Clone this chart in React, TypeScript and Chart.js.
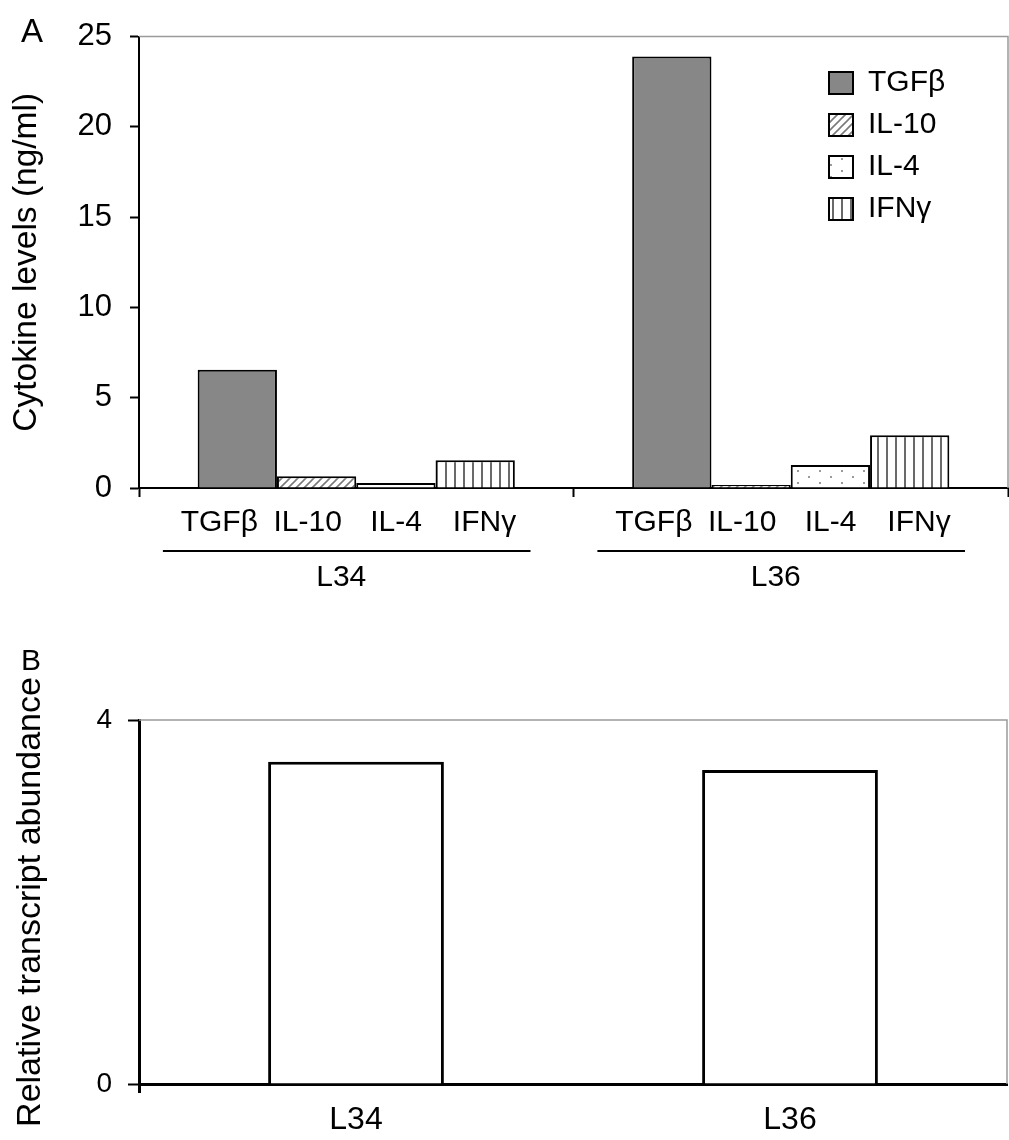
import React, { useEffect, useRef } from 'react';
import { Chart, registerables } from 'chart.js';

Chart.register(...registerables);

const FONT = '"Liberation Sans", Arial, Helvetica, sans-serif';

// ---- Panel A data ----
const groups = ['L34', 'L36'];
const cytokines = ['TGFβ', 'IL-10', 'IL-4', 'IFNγ'];
const tgfbValues = [6.55, 23.9];
const il10Values = [0.65, 0.16];
const il4Values = [0.28, 1.27];
const ifngValues = [1.54, 2.92];
const yTicksA = [0, 5, 10, 15, 20, 25];

// ---- Panel B data ----
const lines = ['L34', 'L36'];
const transcriptValues = [3.54, 3.45];
const yTicksB = [0, 4];

// layout constants for sub-labels under the bars (in category units)
const LABEL_SPACING = 0.2035;
const LABEL_SHIFT = -0.01;

function makePattern(kind: string): CanvasPattern | string {
  const c = document.createElement('canvas');
  const ctx = c.getContext('2d');
  if (!ctx) return '#fff';
  if (kind === 'hatch') {
    c.width = 8; c.height = 8;
    ctx.fillStyle = '#fff'; ctx.fillRect(0, 0, 8, 8);
    ctx.strokeStyle = '#7a7a7a'; ctx.lineWidth = 1.6;
    ctx.beginPath();
    ctx.moveTo(-1, 9); ctx.lineTo(9, -1);
    ctx.moveTo(-1, 1); ctx.lineTo(1, -1);
    ctx.moveTo(7, 9); ctx.lineTo(9, 7);
    ctx.stroke();
  } else if (kind === 'dots') {
    c.width = 22; c.height = 12;
    ctx.fillStyle = '#fff'; ctx.fillRect(0, 0, 22, 12);
    ctx.fillStyle = '#9a9a9a';
    ctx.fillRect(5, 2, 2, 2);
    ctx.fillRect(16, 8, 2, 2);
  } else {
    c.width = 9; c.height = 4;
    ctx.fillStyle = '#fff'; ctx.fillRect(0, 0, 9, 4);
    ctx.fillStyle = '#6a6a6a';
    ctx.fillRect(4, 0, 2, 4);
  }
  return ctx.createPattern(c, 'repeat') || '#fff';
}

const decoA = {
  id: 'decoA',
  afterLayout(chart: any) {
    const lg = chart.legend;
    if (lg) {
      const w = lg.width, h = lg.height;
      lg.left = 817; lg.top = 56;
      lg.right = lg.left + w; lg.bottom = lg.top + h;
    }
  },
  afterDraw(chart: any) {
    const { ctx, chartArea: ca, scales } = chart;
    ctx.save();
    ctx.strokeStyle = '#9a9a9a';
    ctx.lineWidth = 1.5;
    ctx.beginPath();
    ctx.moveTo(ca.left, ca.top);
    ctx.lineTo(ca.right, ca.top);
    ctx.lineTo(ca.right, ca.bottom);
    ctx.stroke();

    const x = scales.x;
    const x3 = scales.x3;
    const catW = x.getPixelForValue(1) - x.getPixelForValue(0);
    const y = x3.top + 9;
    ctx.strokeStyle = '#000';
    ctx.lineWidth = 2;
    ctx.beginPath();
    groups.forEach((_g, i) => {
      const c = x.getPixelForValue(i);
      ctx.moveTo(c - catW / 2 + 0.055 * catW, y);
      ctx.lineTo(c + catW / 2 - 0.099 * catW, y);
    });
    ctx.stroke();

    ctx.fillStyle = '#000';
    ctx.font = `33px ${FONT}`;
    ctx.textAlign = 'left';
    ctx.textBaseline = 'alphabetic';
    ctx.fillText('A', 21, 42);
    ctx.restore();
  },
};

const decoB = {
  id: 'decoB',
  afterDraw(chart: any) {
    const { ctx, chartArea: ca } = chart;
    ctx.save();
    ctx.strokeStyle = '#9a9a9a';
    ctx.lineWidth = 1.5;
    ctx.beginPath();
    ctx.moveTo(ca.left, ca.top);
    ctx.lineTo(ca.right, ca.top);
    ctx.lineTo(ca.right, ca.bottom);
    ctx.stroke();
    ctx.fillStyle = '#000';
    ctx.font = `30px ${FONT}`;
    ctx.textAlign = 'left';
    ctx.textBaseline = 'alphabetic';
    ctx.fillText('B', 21, 60);
    ctx.restore();
  },
};

export default function App() {
  const refA = useRef<HTMLCanvasElement>(null);
  const refB = useRef<HTMLCanvasElement>(null);

  useEffect(() => {
    document.body.style.margin = '0';
    Chart.defaults.font.family = FONT;
    Chart.defaults.color = '#000';

    const hatch = makePattern('hatch');
    const dots = makePattern('dots');
    const stripes = makePattern('stripes');

    const subLabelPositions: number[] = [];
    groups.forEach((_g, i) => {
      cytokines.forEach((_c, j) => {
        subLabelPositions.push(i + LABEL_SHIFT + (j - (cytokines.length - 1) / 2) * LABEL_SPACING);
      });
    });

    const common = {
      borderColor: '#000',
      borderWidth: 2,
      categoryPercentage: 0.73,
      barPercentage: 1.0,
    };

    const chartA = new Chart(refA.current as HTMLCanvasElement, {
      type: 'bar',
      data: {
        labels: groups,
        datasets: [
          { label: cytokines[0], data: tgfbValues, backgroundColor: '#878787', ...common },
          { label: cytokines[1], data: il10Values, backgroundColor: hatch as any, ...common },
          { label: cytokines[2], data: il4Values, backgroundColor: dots as any, ...common },
          { label: cytokines[3], data: ifngValues, backgroundColor: stripes as any, ...common },
        ],
      },
      options: {
        responsive: false,
        animation: false,
        events: [],
        layout: { padding: { top: 23, right: 1, bottom: 8, left: 0 } },
        plugins: {
          tooltip: { enabled: false },
          legend: {
            position: 'chartArea' as any,
            align: 'start',
            labels: {
              color: '#000',
              font: { family: FONT, size: 30 },
              boxWidth: 24,
              boxHeight: 22,
              padding: 12,
            },
          },
        },
        scales: {
          y: {
            min: 0,
            max: 25,
            afterBuildTicks: (s: any) => { s.ticks = yTicksA.map((v) => ({ value: v })); },
            afterFit: (s: any) => { s.width = 139; },
            border: { color: '#000', width: 2 },
            grid: { drawOnChartArea: false, tickLength: 9, tickWidth: 2, tickColor: '#000' },
            ticks: { color: '#000', font: { family: FONT, size: 31 }, padding: 18 },
            title: {
              display: true,
              text: 'Cytokine levels (ng/ml)',
              color: '#000',
              font: { family: FONT, size: 33.5 },
              padding: { top: 7, bottom: 0 },
            },
          },
          x: {
            type: 'category',
            position: 'bottom',
            weight: 1,
            afterFit: (s: any) => { s.height = 9; },
            border: { color: '#000', width: 2 },
            grid: { drawOnChartArea: false, tickLength: 9, tickWidth: 2, tickColor: '#000', offset: true },
            ticks: { display: false },
          },
          x2: {
            type: 'linear',
            position: 'bottom',
            weight: 2,
            min: -0.5,
            max: 1.5,
            offset: false,
            afterBuildTicks: (s: any) => { s.ticks = subLabelPositions.map((v) => ({ value: v })); },
            afterFit: (s: any) => { s.height = 45; },
            border: { display: false },
            grid: { display: false, drawTicks: false, drawOnChartArea: false },
            ticks: {
              autoSkip: false,
              maxRotation: 0,
              padding: 8,
              color: '#000',
              font: { family: FONT, size: 30 },
              callback: (_v: any, i: number) => cytokines[i % cytokines.length],
            },
          },
          x3: {
            type: 'category',
            position: 'bottom',
            weight: 3,
            afterFit: (s: any) => { s.height = 60; },
            border: { display: false },
            grid: { display: false, drawTicks: false, drawOnChartArea: false },
            ticks: {
              maxRotation: 0,
              padding: 18,
              labelOffset: -15,
              color: '#000',
              font: { family: FONT, size: 30 },
            },
          },
        },
      } as any,
      plugins: [decoA],
    });

    const chartB = new Chart(refB.current as HTMLCanvasElement, {
      type: 'bar',
      data: {
        labels: lines,
        datasets: [
          {
            label: 'Relative transcript abundance',
            data: transcriptValues,
            backgroundColor: '#fff',
            borderColor: '#000',
            borderWidth: 3,
            categoryPercentage: 1,
            barPercentage: 0.405,
          },
        ],
      },
      options: {
        responsive: false,
        animation: false,
        events: [],
        layout: { padding: { top: 110, right: 2, bottom: 0, left: 0 } },
        plugins: { legend: { display: false }, tooltip: { enabled: false } },
        scales: {
          y: {
            min: 0,
            max: 4,
            afterBuildTicks: (s: any) => { s.ticks = yTicksB.map((v) => ({ value: v })); },
            afterFit: (s: any) => { s.width = 139; },
            border: { color: '#000', width: 3 },
            grid: { drawOnChartArea: false, tickLength: 11, tickWidth: 2, tickColor: '#000' },
            ticks: { color: '#000', font: { family: FONT, size: 28 }, padding: 16 },
            title: {
              display: true,
              text: 'Relative transcript abundance',
              color: '#000',
              font: { family: FONT, size: 34 },
              padding: { top: 10, bottom: 0 },
            },
          },
          x: {
            afterFit: (s: any) => { s.height = 56; },
            border: { color: '#000', width: 3 },
            grid: {
              drawOnChartArea: false,
              tickLength: 9,
              tickWidth: 3,
              offset: true,
              tickColor: (c: any) => (c.index === 0 ? '#000' : 'rgba(0,0,0,0)'),
            },
            ticks: { maxRotation: 0, padding: 8, color: '#000', font: { family: FONT, size: 32 } },
          },
        },
      } as any,
      plugins: [decoB],
    });

    return () => {
      chartA.destroy();
      chartB.destroy();
    };
  }, []);

  return (
    <div style={{ position: 'absolute', left: 0, top: 0, width: 1009, height: 1140, background: '#fff' }}>
      <canvas ref={refA} width={1009} height={610} style={{ position: 'absolute', left: 0, top: 0, display: 'block' }} />
      <canvas ref={refB} width={1009} height={530} style={{ position: 'absolute', left: 0, top: 610, display: 'block' }} />
    </div>
  );
}
